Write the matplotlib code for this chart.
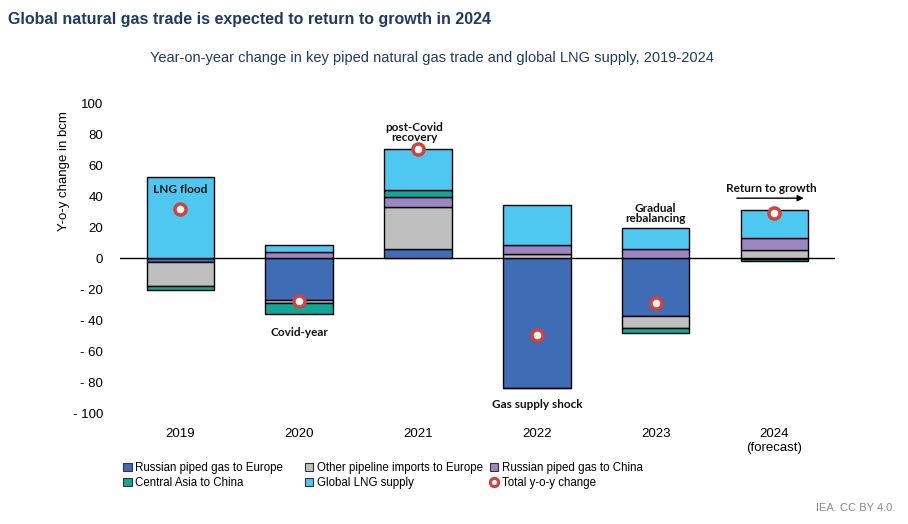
import matplotlib.pyplot as plt
from matplotlib.patches import Patch
from matplotlib.lines import Line2D

plt.rcParams['font.family'] = ['Liberation Sans', 'DejaVu Sans']

years = ["2019", "2020", "2021", "2022", "2023", "2024\n(forecast)"]
series_names = ["Russian piped gas to Europe", "Other pipeline imports to Europe",
                "Russian piped gas to China", "Central Asia to China", "Global LNG supply"]
russia_europe = [-2.5, -26.8, 5.8, -83.0, -37.1, -0.3]
other_europe = [-15.0, -2.1, 27.5, 3.2, -7.5, 5.3]
russia_china = [0.0, 4.3, 6.0, 5.6, 6.2, 7.7]
central_asia = [-2.9, -6.5, 4.9, -0.5, -3.2, -1.5]
lng = [52.5, 4.1, 26.5, 25.3, 13.1, 18.0]
total = [32.0, -27.2, 70.6, -49.5, -28.5, 29.2]
yticks = [100, 80, 60, 40, 20, 0, -20, -40, -60, -80, -100]

colors = ["#3f6db5", "#bfbfbf", "#9d85c2", "#13a596", "#4fc8f1"]

fig = plt.figure(figsize=(9.08, 5.24), dpi=100)
ax = fig.add_axes([0.132, 0.21, 0.7876, 0.5934])

x = range(len(years))
pos_base = [0.0] * len(years)
neg_base = [0.0] * len(years)
for vals, col in zip([russia_europe, other_europe, russia_china, central_asia, lng], colors):
    bottoms = []
    for i, v in enumerate(vals):
        if v >= 0:
            bottoms.append(pos_base[i])
            pos_base[i] += v
        else:
            bottoms.append(neg_base[i])
            neg_base[i] += v
    ax.bar(x, vals, bottom=bottoms, width=0.57, color=col, edgecolor="black", linewidth=1, zorder=2)

ax.axhline(0, color="black", linewidth=1, zorder=1)
ax.plot(x, total, linestyle="none", marker="o", markersize=8, markerfacecolor="white",
        markeredgecolor="#d5403a", markeredgewidth=2.5, zorder=4)

ax.set_xlim(-0.51, 5.51)
ax.set_ylim(-100, 100)
ax.set_yticks(yticks)
ax.set_yticklabels([f"- {abs(v)}" if v < 0 else str(v) for v in yticks], fontsize=9.5)
ax.set_xticks(list(x))
ax.set_xticklabels(years, fontsize=9.5)
ax.tick_params(length=0, pad=12)
ax.tick_params(axis="x", pad=10)
for s in ax.spines.values():
    s.set_visible(False)
ax.set_ylabel("Y-o-y change in bcm", fontsize=9.5)
ax.yaxis.set_label_coords(-0.07, 0.78)

# annotations
bold = dict(fontsize=8.5, fontweight="bold", family=['Lato', 'DejaVu Sans'], ha="center", va="center",
            color="#111111", linespacing=0.9, zorder=5)
ax.text(0, 44.5, "LNG flood", **bold)
ax.text(1, -47.5, "Covid-year", **bold)
ax.text(1.97, 81, "post-Covid\nrecovery", **bold)
ax.text(3, -94, "Gas supply shock", **bold)
ax.text(4, 29, "Gradual\nrebalancing", **bold)
ax.text(4.97, 45.3, "Return to growth", **bold)
ax.annotate("", xy=(5.27, 38.8), xytext=(4.66, 38.8),
            arrowprops=dict(arrowstyle="-|>", color="black", lw=1, mutation_scale=9), zorder=5)

fig.text(0.009, 0.962, "Global natural gas trade is expected to return to growth in 2024",
         fontsize=11.5, fontweight="bold", color="#1f3b63", va="center")
fig.text(0.165, 0.889, "Year-on-year change in key piped natural gas trade and global LNG supply, 2019-2024",
         fontsize=10.5, color="#1f3b63", va="center")
fig.text(0.986, 0.03, "IEA. CC BY 4.0.", fontsize=8, color="#8c8c8c", ha="right", va="center")

# legend, three columns
handles = [Patch(facecolor=c, edgecolor="#333333", linewidth=0.8) for c in colors]
handles.append(Line2D([], [], linestyle="none", marker="o", markersize=6, markerfacecolor="white",
                      markeredgecolor="#d5403a", markeredgewidth=2.2))
labels = series_names + ["Total y-o-y change"]
col_x = [0.136, 0.336, 0.54]
order = [[0, 3], [1, 4], [2, 5]]
for cx, idx in zip(col_x, order):
    fig.legend([handles[i] for i in idx], [labels[i] for i in idx], loc="upper left",
               bbox_to_anchor=(cx, 0.118), frameon=False, handlelength=0.7, handleheight=0.7,
               handletextpad=0.3, labelspacing=0.25, borderpad=0, borderaxespad=0,
               prop={"size": 8.3})

fig.savefig("out.png", dpi=100)
